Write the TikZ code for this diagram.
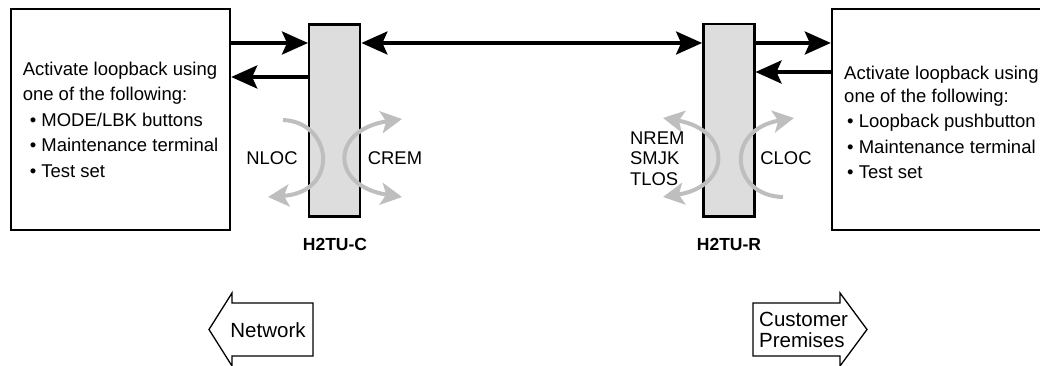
\documentclass[tikz,border=0pt]{standalone}
\usepackage{fontspec}
\setmainfont{Liberation Sans}
\usetikzlibrary{arrows.meta}

\definecolor{loopgray}{RGB}{190,190,190}
\definecolor{unitfill}{RGB}{221,221,221}

\newcommand{\boxfont}{\fontsize{18.5}{25.5}\selectfont}
\newcommand{\codefont}{\fontsize{18.4}{20.5}\selectfont}
\newcommand{\sidefont}{\fontsize{20.5}{21}\selectfont}

\tikzset{
  panel/.style={draw, line width=2.4pt, minimum width=219pt, minimum height=221pt, inner sep=0pt, align=left, font=\boxfont},
  boxtext/.style={inner sep=0pt, align=left, font=\boxfont},
  unit/.style={draw, line width=2.4pt, fill=unitfill, minimum width=51pt, minimum height=192pt, inner sep=0pt},
  sig/.style={line width=3.6pt, -{Stealth[length=26pt,width=23pt,inset=5pt]}},
  sigboth/.style={line width=3.6pt, {Stealth[length=26pt,width=23pt,inset=5pt]}-{Stealth[length=26pt,width=23pt,inset=5pt]}},
  lbk/.style={line width=4pt, draw=loopgray, -{Stealth[length=21pt,width=22pt,inset=5pt]}},
  lbkboth/.style={line width=4pt, draw=loopgray, {Stealth[length=21pt,width=22pt,inset=5pt]}-{Stealth[length=21pt,width=22pt,inset=5pt]}},
  code/.style={inner sep=0pt, font=\codefont, align=left},
  unitname/.style={inner sep=0pt, font=\fontsize{17.5}{20}\selectfont\bfseries},
  side/.style={draw, line width=1.3pt},
  sidetext/.style={inner sep=0pt, font=\sidefont, align=left}
}

\begin{document}
\begin{tikzpicture}[x=1pt, y=-1pt]
\useasboundingbox (0,0) rectangle (1040,366);
\clip (0,0) rectangle (1040,366);

% the two end boxes
\node[panel] (lbox) at (120.5,119.5) {Activate loopback using\\one of the following:\\\hspace*{7pt}\textbullet\ MODE/LBK buttons\\\hspace*{7pt}\textbullet\ Maintenance terminal\\\hspace*{7pt}\textbullet\ Test set};
\node[panel, minimum width=240pt] (rbox) at (952,119.5) {};
\node[boxtext, anchor=north west] (rtext) at (844,66) {Activate loopback using\\[-3pt]one of the following:\\\hspace*{3pt}\textbullet\ Loopback pushbutton\\\hspace*{3pt}\textbullet\ Maintenance terminal\\\hspace*{3pt}\textbullet\ Test set};

% units
\node[unit] (h2tuc) at (334.7,120.5) {};
\node[unit] (h2tur) at (728.8,120.3) {};
\node[unitname] (namec) at (335,244) {H2TU-C};
\node[unitname] (namer) at (729,244) {H2TU-R};

% signal lines
\coordinate (fwd) at (0,43);
\coordinate (back) at (0,77);
\coordinate (backr) at (0,72);
\draw[sig] (lbox.east |- fwd) -- (h2tuc.west |- fwd);
\draw[sig] (h2tuc.west |- back) -- (lbox.east |- back);
\draw[sigboth] (h2tuc.east |- fwd) -- (h2tur.west |- fwd);
\draw[sig] (h2tur.east |- fwd) -- (rbox.west |- fwd);
\draw[sig] (rbox.west |- backr) -- (h2tur.east |- backr);

% loopbacks
\draw[lbk] (283,120) .. controls (333,122) and (340,192) .. (268,197);
\draw[lbkboth] (402,119) .. controls (330,130) and (330,186) .. (402,197);
\draw[lbkboth] (663,118) .. controls (732,130) and (732,186) .. (663,197);
\draw[lbk] (783,197) .. controls (731,196) and (724,130) .. (794,118);

\node[code] (nloc) at (272,158.5) {NLOC};
\node[code] (crem) at (395,158.5) {CREM};
\node[code, anchor=west] (nrem) at (630,158.5) {NREM\\SMJK\\TLOS};
\node[code] (cloc) at (786,158.5) {CLOC};

% direction signs
\draw[side] (209,329.5) -- (232,293) -- (232,303) -- (313,303) -- (313,356) -- (232,356) -- (232,366) -- cycle;
\node[sidetext] (net) at (268,330.5) {Network};
\draw[side] (753,303) -- (840,303) -- (840,293) -- (867,329.5) -- (840,366) -- (840,356) -- (753,356) -- cycle;
\node[sidetext, anchor=west] (cpe) at (759,330.2) {Customer\\Premises};

\end{tikzpicture}
\end{document}
